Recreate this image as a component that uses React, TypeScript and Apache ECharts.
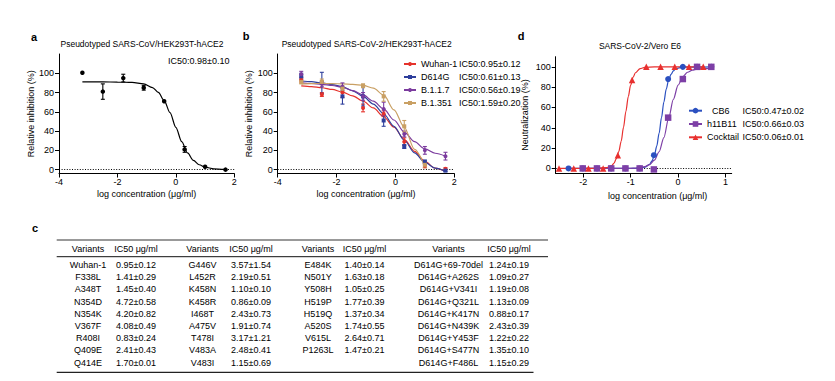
import React, { useEffect, useRef } from 'react';
import * as echarts from 'echarts';

const FONT = 'Arial, "Liberation Sans", Helvetica, sans-serif';

// ---------- Panel a ----------
const aTitle = 'Pseudotyped SARS-CoV/HEK293T-hACE2';
const aIC50 = 'IC50:0.98±0.10';
const aX = [-3.2, -2.5, -1.8, -1.1, -0.4, 0.3, 1.0, 1.7];
const aY = [100.5, 81, 95, 85, 71, 21, 3, 0];
const aErr = [0, 8, 4, 2.5, 0, 3, 0, 0];
const aFitX = [-3.2, -2.5, -2, -1.5, -1.1, -0.8, -0.6, -0.4, -0.2, 0, 0.2, 0.4, 0.6, 0.8, 1.0, 1.3, 1.7];
const aFitY = [91, 91, 90.9, 90.5, 88.9, 85.2, 80.2, 71.7, 59.2, 43.9, 29, 17.3, 9.6, 5.1, 2.6, 0.9, 0.2];

// ---------- Panel b ----------
const bTitle = 'Pseudotyped SARS-CoV-2/HEK293T-hACE2';
const bNames = ['Wuhan-1', 'D614G', 'B.1.1.7', 'B.1.351'];
const bIC50 = ['IC50:0.95±0.12', 'IC50:0.61±0.13', 'IC50:0.56±0.19', 'IC50:1.59±0.20'];
const bColors = ['#e5322b', '#2f3f9c', '#7b3b9e', '#c9a064'];
const bSymbols = ['circle', 'rect', 'circle', 'rect'];
const bX = [-3.2, -2.5, -1.8, -1.1, -0.4, 0.3, 1.0, 1.7];
const bWuhanY = [93, 78, 80, 64, 58, 29, 4, 1];
const bWuhanErr = [2, 2, 5, 4, 3, 4, 2, 1];
const bD614GY = [97, 90, 76, 76, 51, 24, 8, -1];
const bD614GErr = [3, 11, 8, 10, 6, 2, 2, 1];
const bB117Y = [99, 89, 86, 76, 63, 37, 20, 14];
const bB117Err = [3, 3, 4, 4, 7, 3, 4, 4];
const bB1351X = [-3.2, -2.5, -1.8, -1.1, -0.4, 0.3, 1.0];
const bB1351Y = [91, 91, 84, 87, 76, 45, 5];
const bB1351Err = [2, 3, 3, 2, 5, 6, 3];
const bFitX = [-3.2, -2.85, -2.5, -2.15, -1.8, -1.45, -1.1, -0.75, -0.4, -0.05, 0.3, 0.65, 1.0, 1.35, 1.7];
const bWuhanFit = [87, 86.2, 85, 83.2, 80.5, 76.5, 71, 64, 55, 44, 31.5, 19, 8.5, 1.5, -2];
const bD614GFit = [92, 91.3, 90, 88.3, 86, 81.8, 76, 68, 58, 45, 30.5, 17.5, 7.5, 1.5, -2];
const bB117Fit = [90, 89.4, 88.5, 87.3, 85.5, 82, 77.5, 71, 63, 51.5, 39, 29, 21.5, 17, 14];
const bB1351FitX = [-3.2, -2.85, -2.5, -2.15, -1.8, -1.45, -1.1, -0.75, -0.4, -0.05, 0.3, 0.65, 1.0];
const bB1351Fit = [89, 89.3, 89.5, 89.3, 89, 88.5, 87.5, 84.5, 77.5, 62, 44, 21, 3];

// ---------- Panel d ----------
const dTitle = 'SARS-CoV-2/Vero E6';
const dNames = ['CB6', 'h11B11', 'Cocktail'];
const dLegendNames = ['  CB6', 'h11B11', 'Cocktail'];
const dIC50 = ['IC50:0.47±0.02', 'IC50:0.66±0.03', 'IC50:0.06±0.01'];
const dColors = ['#2b50c0', '#7d3fa6', '#e8302f'];
const dSymbols = ['circle', 'rect', 'triangle'];
const cbX = [-2.31, -2.01, -1.71, -1.41, -1.11, -0.81, -0.51, -0.21, 0.1, 0.4, 0.7];
const cbY = [0, 0, 0, 0, 0, 0, 13, 88, 100, 100, 100];
const hX = [-2.01, -1.71, -1.41, -1.11, -0.81, -0.51, -0.21, 0.1, 0.4, 0.7];
const hY = [0, 0, 0, 0, 0, -1, 50, 88, 100, 100];
const ckX = [-2.51, -2.2, -1.89, -1.58, -1.27, -0.97, -0.67, -0.37, -0.07, 0.23, 0.53];
const ckY = [0, 0, 0, 0, 13, 87, 100, 100, 100, 100, 100];
const cbFitX = [-2.31, -0.9, -0.8, -0.7, -0.6, -0.55, -0.5, -0.45, -0.4, -0.35, -0.3, -0.25, -0.2, -0.15, -0.1, -0.05, 0, 0.1, 0.7];
const cbFitY = [0, 0.1, 0.3, 1.2, 4, 7.4, 13, 22, 34.7, 50, 65.3, 78, 87, 92.6, 96, 97.9, 98.8, 99.7, 100];
const hFitX = [-2.01, -1, -0.9, -0.8, -0.7, -0.6, -0.5, -0.4, -0.3, -0.2, -0.1, 0, 0.1, 0.2, 0.3, 0.4, 0.5, 0.7];
const hFitY = [0, 0.1, 0.35, 0.8, 1.7, 3.8, 8.1, 16.4, 30.4, 49.2, 68, 82, 90.4, 94.7, 96.8, 97.8, 98.2, 98.4];
const ckFitX = [-2.51, -1.7, -1.5, -1.4, -1.35, -1.3, -1.25, -1.2, -1.15, -1.1, -1.05, -1.0, -0.95, -0.9, -0.8, -0.7, -0.5, 0.53];
const ckFitY = [0, 0.1, 0.8, 2.8, 5.3, 9.8, 16.6, 26.7, 40.6, 56.3, 70.8, 82, 89.6, 94.2, 98.3, 99.5, 100, 100];

// ---------- Table c ----------
const tHeadVar = 'Variants';
const tHeadVal = 'IC50 μg/ml';
const t1Var = ['Wuhan-1', 'F338L', 'A348T', 'N354D', 'N354K', 'V367F', 'R408I', 'Q409E', 'Q414E'];
const t1Val = ['0.95±0.12', '1.41±0.29', '1.45±0.40', '4.72±0.58', '4.20±0.82', '4.08±0.49', '0.83±0.24', '2.41±0.43', '1.70±0.01'];
const t2Var = ['G446V', 'L452R', 'K458N', 'K458R', 'I468T', 'A475V', 'T478I', 'V483A', 'V483I'];
const t2Val = ['3.57±1.54', '2.19±0.51', '1.10±0.10', '0.86±0.09', '2.43±0.73', '1.91±0.74', '3.17±1.21', '2.48±0.41', '1.15±0.69'];
const t3Var = ['E484K', 'N501Y', 'Y508H', 'H519P', 'H519Q', 'A520S', 'V615L', 'P1263L'];
const t3Val = ['1.40±0.14', '1.63±0.18', '1.05±0.25', '1.77±0.39', '1.37±0.34', '1.74±0.55', '2.64±0.71', '1.47±0.21'];
const t4Var = ['D614G+69-70del', 'D614G+A262S', 'D614G+V341I', 'D614G+Q321L', 'D614G+K417N', 'D614G+N439K', 'D614G+Y453F', 'D614G+S477N', 'D614G+F486L'];
const t4Val = ['1.24±0.19', '1.09±0.27', '1.19±0.08', '1.13±0.09', '0.88±0.17', '2.43±0.39', '1.22±0.22', '1.35±0.10', '1.15±0.29'];

const yTicksPct = [0, 20, 40, 60, 80, 100];
const dXTicks = [-2, -1, 0, 1];

function pairs(xs: number[], ys: number[]) {
  return xs.map((x, i) => [x, ys[i]]);
}

function fitSeries(name: string, xs: number[], ys: number[], color: string, symbol: string, symbolSize: number, gi: number, withZero = false): any {
  const s: any = {
    name,
    type: 'line',
    xAxisIndex: gi,
    yAxisIndex: gi,
    data: pairs(xs, ys),
    smooth: 0.3,
    smoothMonotone: 'x',
    showSymbol: false,
    symbol,
    symbolSize,
    lineStyle: { color, width: 1.2 },
    itemStyle: { color },
    z: 3,
    silent: true,
  };
  if (withZero) {
    s.markLine = {
      silent: true,
      symbol: ['none', 'none'],
      label: { show: false },
      lineStyle: { color: '#000', width: 1, type: [1, 1.6] },
      data: [{ yAxis: 0 }],
      z: 1,
    };
  }
  return s;
}

function pointSeries(name: string, xs: number[], ys: number[], color: string, symbol: string, symbolSize: number, gi: number): any {
  return {
    name,
    type: 'scatter',
    xAxisIndex: gi,
    yAxisIndex: gi,
    data: pairs(xs, ys),
    symbol,
    symbolSize,
    itemStyle: { color, opacity: 1 },
    z: 5,
    silent: true,
  };
}

function errSeries(name: string, xs: number[], ys: number[], errs: number[], color: string, gi: number): any {
  const data = xs.map((x, i) => [x, ys[i] - errs[i], ys[i] + errs[i]]).filter((_, i) => errs[i] > 0);
  return {
    name,
    type: 'custom',
    xAxisIndex: gi,
    yAxisIndex: gi,
    data,
    encode: { x: 0, y: [1, 2] },
    z: 4,
    silent: true,
    renderItem: (params: any, api: any) => {
      const x = api.value(0);
      const p1 = api.coord([x, api.value(1)]);
      const p2 = api.coord([x, api.value(2)]);
      const w = 2;
      const st = { stroke: color, lineWidth: 1.1 };
      return {
        type: 'group',
        children: [
          { type: 'line', shape: { x1: p1[0], y1: p1[1], x2: p2[0], y2: p2[1] }, style: st },
          { type: 'line', shape: { x1: p1[0] - w, y1: p1[1], x2: p1[0] + w, y2: p1[1] }, style: st },
          { type: 'line', shape: { x1: p2[0] - w, y1: p2[1], x2: p2[0] + w, y2: p2[1] }, style: st },
        ],
      };
    },
  };
}

function valueXAxis(gi: number, min: number, max: number, extra: any = {}): any {
  return {
    gridIndex: gi,
    type: 'value',
    min,
    max,
    axisLine: { show: true, onZero: false, lineStyle: { color: '#000', width: 1 } },
    axisTick: { show: true, length: 4, lineStyle: { color: '#000', width: 1 } },
    axisLabel: { fontSize: 9, color: '#000', margin: 4, fontFamily: FONT },
    splitLine: { show: false },
    name: 'log concentration (μg/ml)',
    nameLocation: 'middle',
    nameGap: 16,
    nameTextStyle: { fontSize: 9, color: '#000', fontFamily: FONT },
    ...extra,
  };
}

function valueYAxis(gi: number, min: number, max: number, name: string, nameGap: number): any {
  return {
    gridIndex: gi,
    type: 'value',
    min,
    max,
    axisLine: { show: true, onZero: false, lineStyle: { color: '#000', width: 1 } },
    axisTick: { show: true, length: 4, customValues: yTicksPct, lineStyle: { color: '#000', width: 1 } },
    axisLabel: { fontSize: 9, color: '#000', margin: 5, customValues: yTicksPct, fontFamily: FONT },
    splitLine: { show: false },
    name,
    nameLocation: 'middle',
    nameGap,
    nameTextStyle: { fontSize: 9, color: '#000', fontFamily: FONT },
  };
}

function text(x: number, y: number, t: string, opts: any = {}): any {
  return {
    type: 'text',
    x,
    y,
    silent: true,
    style: {
      text: t,
      fontSize: opts.fontSize || 9,
      fontWeight: opts.fontWeight || 'normal',
      fontFamily: FONT,
      fill: '#000',
      align: opts.align || 'center',
      verticalAlign: 'middle',
    },
  };
}

function hline(x1: number, x2: number, y: number, color: string, w: number): any {
  return { type: 'line', silent: true, shape: { x1, y1: y, x2, y2: y }, style: { stroke: color, lineWidth: w } };
}

function buildTable(): any[] {
  const els: any[] = [];
  const groups = [
    { v: t1Var, n: t1Val, cv: 88, cn: 136 },
    { v: t2Var, n: t2Val, cv: 202.5, cn: 251 },
    { v: t3Var, n: t3Val, cv: 318, cn: 364.5 },
    { v: t4Var, n: t4Val, cv: 448.5, cn: 509 },
  ];
  const headY = 249;
  const row0 = 265;
  const step = 12.2;
  groups.forEach((g) => {
    els.push(text(g.cv, headY, tHeadVar));
    els.push(text(g.cn, headY, tHeadVal));
    g.v.forEach((s, i) => {
      els.push(text(g.cv, row0 + i * step, s));
      els.push(text(g.cn, row0 + i * step, g.n[i]));
    });
  });
  els.push(hline(56.7, 548, 240, '#777', 1.6));
  els.push(hline(56.7, 548, 256.7, '#111', 1));
  els.push(hline(56.7, 533.5, 372.3, '#222', 1.2));
  return els;
}

export default function App() {
  const ref = useRef<HTMLDivElement>(null);

  useEffect(() => {
    if (!ref.current) return;
    const chart = echarts.init(ref.current, undefined, { renderer: 'svg' });

    const bYs = [bWuhanY, bD614GY, bB117Y, bB1351Y];
    const bErrs = [bWuhanErr, bD614GErr, bB117Err, bB1351Err];
    const bXs = [bX, bX, bX, bB1351X];
    const bFitXs = [bFitX, bFitX, bFitX, bB1351FitX];
    const bFits = [bWuhanFit, bD614GFit, bB117Fit, bB1351Fit];

    const series: any[] = [];
    // a
    series.push(fitSeries('a-fit', aFitX, aFitY, '#000', 'circle', 4, 0, true));
    series.push(errSeries('a-err', aX, aY, aErr, '#000', 0));
    series.push(pointSeries('a-pts', aX, aY, '#000', 'circle', 4.5, 0));
    // b
    bNames.forEach((n, i) => {
      series.push(fitSeries(n, bFitXs[i], bFits[i], bColors[i], bSymbols[i], 4, 1, i === 0));
    });
    bNames.forEach((n, i) => {
      series.push(errSeries(n + '-err', bXs[i], bYs[i], bErrs[i], bColors[i], 1));
      series.push(pointSeries(n + '-pts', bXs[i], bYs[i], bColors[i], bSymbols[i], 4, 1));
    });
    // d
    const dFitXs = [cbFitX, hFitX, ckFitX];
    const dFitYs = [cbFitY, hFitY, ckFitY];
    const dXs = [cbX, hX, ckX];
    const dYs = [cbY, hY, ckY];
    const dSizes = [6, 6.5, 6.5];
    dNames.forEach((n, i) => {
      series.push(fitSeries(n, dFitXs[i], dFitYs[i], dColors[i], dSymbols[i], dSizes[i], 2, i === 0));
    });
    dNames.forEach((n, i) => {
      series.push(pointSeries(n + '-pts', dXs[i], dYs[i], dColors[i], dSymbols[i], dSizes[i], 2));
    });

    const option: any = {
      animation: false,
      textStyle: { fontFamily: FONT },
      grid: [
        { left: 59, top: 54, width: 175.3, height: 119.5 },
        { left: 277.7, top: 54, width: 176.6, height: 119.5 },
        { left: 555.7, top: 56.7, width: 176, height: 116.8 },
      ],
      xAxis: [
        valueXAxis(0, -4, 2, { interval: 2 }),
        valueXAxis(1, -4, 2, { interval: 2 }),
        valueXAxis(2, -2.58, 1.13, {
          axisTick: { show: true, length: 4, customValues: dXTicks, lineStyle: { color: '#000', width: 1 } },
          axisLabel: { fontSize: 9, color: '#000', margin: 4, customValues: dXTicks, fontFamily: FONT },
          nameGap: 18,
          nameTextStyle: { fontSize: 9, color: '#000', fontFamily: FONT, padding: [0, 0, 0, 28] },
        }),
      ],
      yAxis: [
        valueYAxis(0, -4, 120, 'Relative inhibition (%)', 21),
        valueYAxis(1, -4, 120, 'Relative inhibition (%)', 20),
        valueYAxis(2, -5, 110, 'Neutralization (%)', 26),
      ],
      legend: [
        {
          data: bNames,
          orient: 'vertical',
          left: 398,
          top: 53.5,
          itemWidth: 12,
          itemHeight: 5,
          itemGap: 2,
          selectedMode: false,
          formatter: (name: string) => `{n|${name}}{v|${bIC50[bNames.indexOf(name)]}}`,
          textStyle: {
            fontSize: 9,
            color: '#000',
            fontFamily: FONT,
            lineHeight: 11,
            rich: {
              n: { width: 38, fontSize: 9, fontFamily: FONT, lineHeight: 11 },
              v: { fontSize: 9, fontFamily: FONT, lineHeight: 11 },
            },
          },
        },
        {
          data: dNames,
          orient: 'vertical',
          left: 683,
          top: 100.2,
          itemWidth: 13,
          itemHeight: 7,
          itemGap: 2.3,
          selectedMode: false,
          formatter: (name: string) => {
            const i = dNames.indexOf(name);
            return `{n|${dLegendNames[i]}}{v|${dIC50[i]}}`;
          },
          textStyle: {
            fontSize: 9,
            color: '#000',
            fontFamily: FONT,
            lineHeight: 11,
            rich: {
              n: { width: 35.5, fontSize: 9, fontFamily: FONT, lineHeight: 11 },
              v: { fontSize: 9, fontFamily: FONT, lineHeight: 11 },
            },
          },
        },
      ],
      graphic: [
        text(34, 37, 'a', { fontSize: 11, fontWeight: 'bold' }),
        text(246, 36, 'b', { fontSize: 11, fontWeight: 'bold' }),
        text(35, 228, 'c', { fontSize: 11, fontWeight: 'bold' }),
        text(521, 36, 'd', { fontSize: 11, fontWeight: 'bold' }),
        text(142, 44.3, aTitle, { fontSize: 8.5 }),
        text(366.7, 44.3, bTitle, { fontSize: 8.5 }),
        text(640, 45.7, dTitle, { fontSize: 8.5 }),
        text(229.5, 61, aIC50, { align: 'right' }),
        ...buildTable(),
      ],
      series,
    };

    chart.setOption(option);
    return () => chart.dispose();
  }, []);

  return <div ref={ref} style={{ position: 'absolute', left: 0, top: 0, width: 835, height: 381 }} />;
}
